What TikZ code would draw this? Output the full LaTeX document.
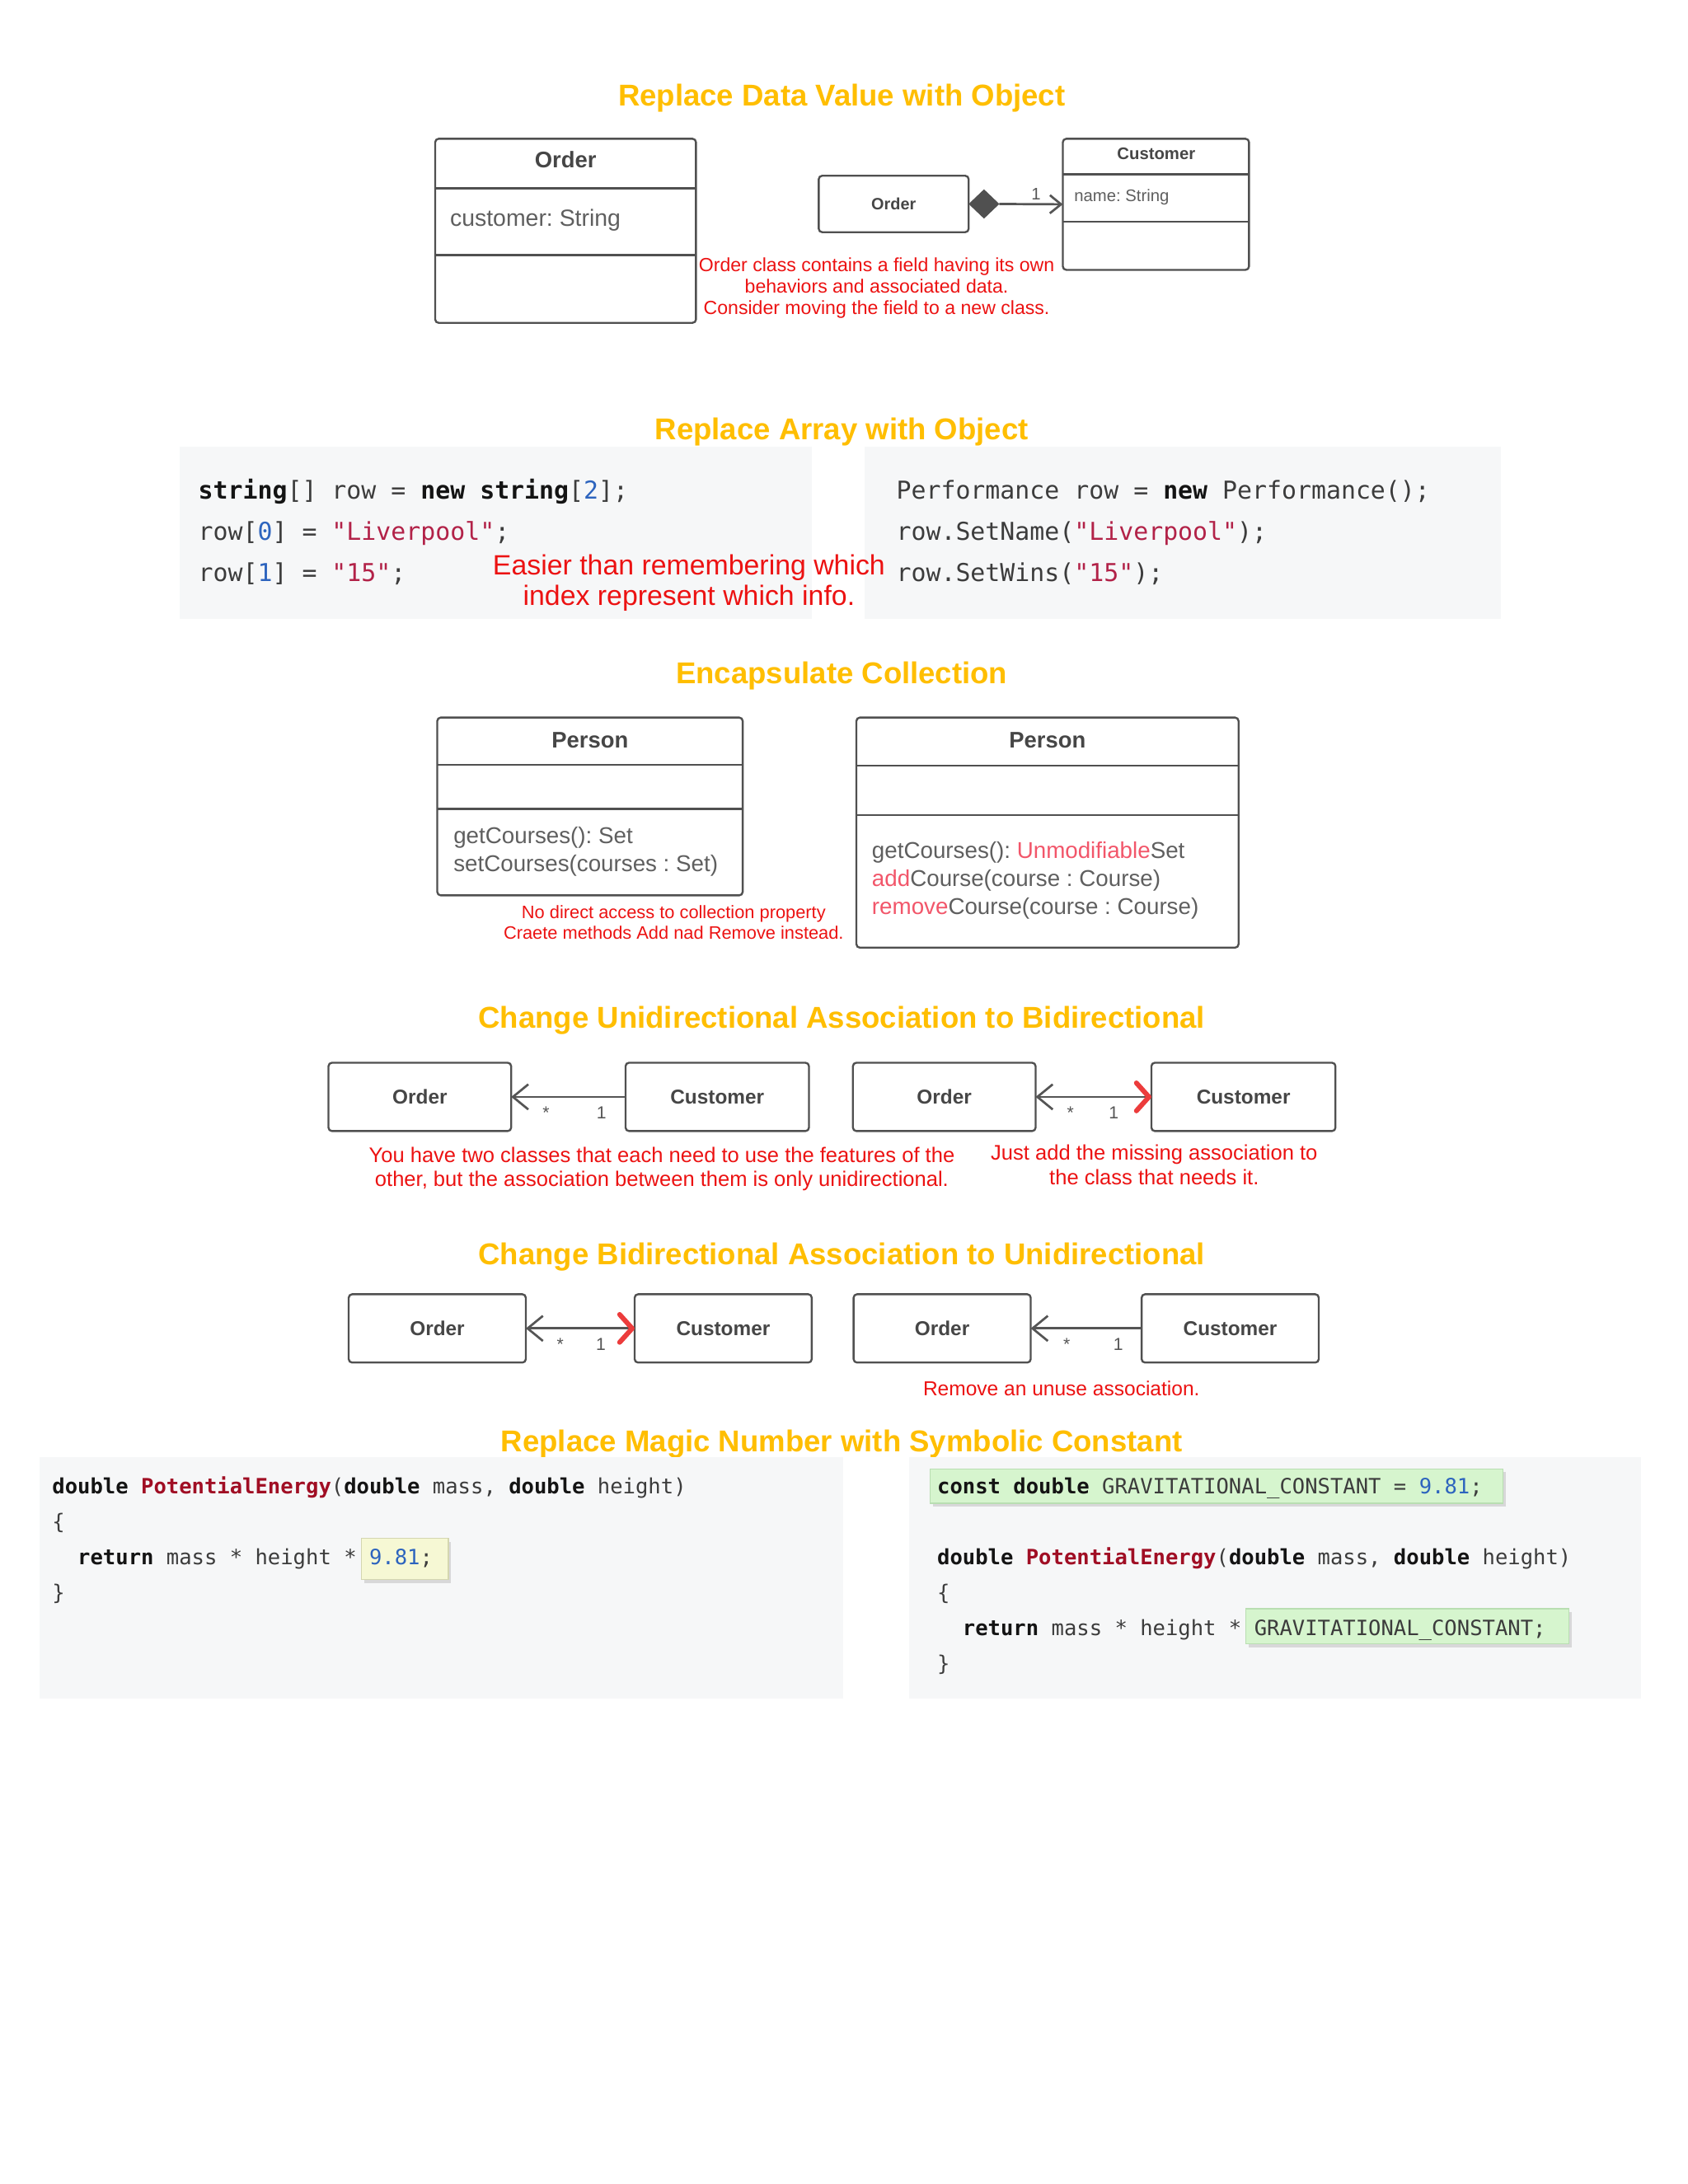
\documentclass[tikz,border=0pt]{standalone}
\usepackage{fontspec}
\setmainfont{Liberation Sans}
\newfontfamily\codefont{DejaVu Sans Mono}
\usetikzlibrary{arrows.meta,shapes.geometric,shadows}
\definecolor{titleC}{RGB}{255,190,0}
\definecolor{boxline}{RGB}{80,80,80}
\definecolor{nameC}{RGB}{70,70,70}
\definecolor{attrC}{RGB}{95,95,95}
\definecolor{noteC}{RGB}{236,18,18}
\definecolor{pinkC}{RGB}{242,86,106}
\definecolor{lineC}{RGB}{85,85,85}
\definecolor{redA}{RGB}{236,60,60}
\definecolor{codebg}{RGB}{246,247,248}
\definecolor{codeC}{RGB}{60,60,60}
\definecolor{kwC}{RGB}{20,20,20}
\definecolor{strC}{RGB}{178,34,72}
\definecolor{fnC}{RGB}{160,14,36}
\definecolor{numC}{RGB}{45,100,190}
\definecolor{greenF}{RGB}{214,245,206}
\definecolor{greenD}{RGB}{185,222,178}
\definecolor{yellowF}{RGB}{246,248,212}
\definecolor{yellowD}{RGB}{212,214,176}
\newcommand{\sz}[1]{\fontsize{#1}{#1}\selectfont}
\newcommand{\ckw}[1]{{\bfseries\color{kwC}#1}}
\newcommand{\cstr}[1]{{\color{strC}#1}}
\newcommand{\cnum}[1]{{\color{numC}#1}}
\newcommand{\cfn}[1]{{\bfseries\color{fnC}#1}}
\newcommand{\cpk}[1]{{\color{pinkC}#1}}
\frenchspacing
\begin{document}
\begin{tikzpicture}[x=1pt,y=-1pt,
  title/.style={font=\bfseries\sz{21.6}, text=titleC, anchor=base, inner sep=0pt},
  classbox/.style={draw=boxline, line width=1.4pt, rounded corners=2.5pt, fill=white, outer sep=0pt, inner sep=0pt, text=nameC},
  divider/.style={draw=boxline, line width=1.4pt},
  cname/.style={text=nameC, inner sep=0pt},
  attr/.style={text=attrC, anchor=base west, inner sep=0pt},
  note/.style={text=noteC, anchor=base, inner sep=0pt},
  assoc/.style={draw=lineC, line width=1.6pt},
  mult/.style={text=lineC, anchor=base, inner sep=0pt, font=\sz{12.5}},
  codepanel/.style={fill=codebg, draw=none, inner sep=0pt, outer sep=0pt, anchor=north west},
  code/.style={font=\codefont\sz{15.1}, text=codeC, anchor=base west, inner sep=0pt},
  bigcode/.style={font=\codefont\sz{17.65}, text=codeC, anchor=base west, inner sep=0pt},
  greenhl/.style={fill=greenF, draw=greenD, line width=0.8pt, inner sep=0pt, outer sep=0pt, anchor=north west,
    drop shadow={shadow xshift=2pt, shadow yshift=-2.5pt, fill=black, opacity=0.12}},
  yellowhl/.style={fill=yellowF, draw=yellowD, line width=0.8pt, inner sep=0pt, outer sep=0pt, anchor=north west,
    drop shadow={shadow xshift=2pt, shadow yshift=-2.5pt, fill=black, opacity=0.12}},
  smallbox/.style={classbox, font=\bfseries\sz{14.4}, minimum height=49pt, anchor=north west},
]
\useasboundingbox (0,0) rectangle (1210,1566);
\fill[white] (0,0) rectangle (1210,1566);

% ===== Section 1: Replace Data Value with Object =====
\node[title] (t1) at (603.5,76) {Replace Data Value with Object};
\node[classbox, minimum width=187pt, minimum height=132pt, anchor=north west] (orderA) at (312,99.5) {};
\draw[divider] ([yshift=-35.5pt]orderA.north west) -- ([yshift=-35.5pt]orderA.north east);
\draw[divider] ([yshift=-83.5pt]orderA.north west) -- ([yshift=-83.5pt]orderA.north east);
\node[cname, font=\bfseries\sz{16.2}] (orderAn) at (405.5,114.5) {Order};
\node[attr, font=\sz{16.8}] (orderAa) at (322.5,162) {customer: String};

\node[classbox, minimum width=107.5pt, minimum height=40.5pt, anchor=north west, font=\bfseries\sz{11.75}] (ordS) at (587,126) {Order};
\node[diamond, fill=boxline, inner sep=0pt, outer sep=0pt, minimum width=22pt, minimum height=21pt, anchor=west] (dia) at (ordS.east) {};
\node[classbox, minimum width=133.5pt, minimum height=94pt, anchor=north west] (custA) at (762,99.5) {};
\draw[divider] ([yshift=-25.5pt]custA.north west) -- ([yshift=-25.5pt]custA.north east);
\draw[divider] ([yshift=-59.5pt]custA.north west) -- ([yshift=-59.5pt]custA.north east);
\node[cname, font=\bfseries\sz{12}] (custAn) at (829,110.5) {Customer};
\node[attr, font=\sz{12}] (custAa) at (770,144.3) {name: String};
\draw[assoc, -{Straight Barb[length=8pt,width=13pt]}] (dia.east) -- (custA.west)
  node[mult, font=\sz{12}, pos=0.58, yshift=2.9pt] (m1) {1};
\node[note, font=\sz{13.65}] (n1a) at (628.5,195) {Order class contains a field having its own};
\node[note, font=\sz{13.65}] (n1b) at (628.5,210.2) {behaviors and associated data.};
\node[note, font=\sz{13.65}] (n1c) at (628.5,225.5) {Consider moving the field to a new class.};

% ===== Section 2: Replace Array with Object =====
\node[title] (t2) at (603.5,315) {Replace Array with Object};
\node[codepanel, minimum width=453pt, minimum height=123.5pt] (p1) at (129,320.5) {};
\node[codepanel, minimum width=456pt, minimum height=123.5pt] (p2) at (620,320.5) {};
\node[bigcode] (c1a) at (142,358) {\ckw{string}[] row = \ckw{new} \ckw{string}[\cnum{2}];};
\node[bigcode] (c1b) at (142,387.5) {row[\cnum{0}] = \cstr{"Liverpool"};};
\node[bigcode] (c1c) at (142,417) {row[\cnum{1}] = \cstr{"15"};};
\node[bigcode] (c2a) at (642.5,358) {Performance row = \ckw{new} Performance();};
\node[bigcode] (c2b) at (642.5,387.5) {row.SetName(\cstr{"Liverpool"});};
\node[bigcode] (c2c) at (642.5,417) {row.SetWins(\cstr{"15"});};
\node[note, font=\sz{20}] (n2a) at (494,412) {Easier than remembering which};
\node[note, font=\sz{20}] (n2b) at (494,434) {index represent which info.};

% ===== Section 3: Encapsulate Collection =====
\node[title] (t3) at (603.5,490) {Encapsulate Collection};
\node[classbox, minimum width=219pt, minimum height=127.5pt, anchor=north west] (persA) at (313.5,514.5) {};
\draw[divider] ([yshift=-34pt]persA.north west) -- ([yshift=-34pt]persA.north east);
\draw[divider] ([yshift=-65.5pt]persA.north west) -- ([yshift=-65.5pt]persA.north east);
\node[cname, font=\bfseries\sz{16.2}] (persAn) at (423,531) {Person};
\node[attr, font=\sz{16.4}] (persAm1) at (325,605) {getCourses(): Set};
\node[attr, font=\sz{16.4}] (persAm2) at (325,625) {setCourses(courses : Set)};

\node[classbox, minimum width=274pt, minimum height=165pt, anchor=north west] (persB) at (614,514.5) {};
\draw[divider] ([yshift=-34.5pt]persB.north west) -- ([yshift=-34.5pt]persB.north east);
\draw[divider] ([yshift=-70pt]persB.north west) -- ([yshift=-70pt]persB.north east);
\node[cname, font=\bfseries\sz{16.2}] (persBn) at (751,531) {Person};
\node[attr, font=\sz{16.4}] (persBm1) at (625,615.5) {getCourses(): \cpk{Unmodifiable}Set};
\node[attr, font=\sz{16.4}] (persBm2) at (625,635.5) {\cpk{add}Course(course : Course)};
\node[attr, font=\sz{16.4}] (persBm3) at (625,655.5) {\cpk{remove}Course(course : Course)};
\node[note, font=\sz{12.9}] (n3a) at (483,658.6) {No direct access to collection property};
\node[note, font=\sz{12.9}] (n3b) at (483,673.4) {Craete methods Add nad Remove instead.};

% ===== Section 4: Change Unidirectional Association to Bidirectional =====
\node[title] (t4) at (603.5,737) {Change Unidirectional Association to Bidirectional};
\node[smallbox, minimum width=131pt] (o4a) at (235.5,762) {Order};
\node[smallbox, minimum width=131.5pt] (c4a) at (448.5,762) {Customer};
\node[smallbox, minimum width=131pt] (o4b) at (611.5,762) {Order};
\node[smallbox, minimum width=132pt] (c4b) at (825.5,762) {Customer};
\draw[assoc, {Straight Barb[length=11pt,width=18pt]}-] (o4a.east) -- (c4a.west)
  node[mult, pos=0.305, yshift=-15.5pt] (m4a) {*}
  node[mult, pos=0.79, yshift=-15.5pt] (m4b) {1};
\draw[assoc, {Straight Barb[length=11pt,width=18pt]}-{Straight Barb[length=9pt,width=20pt,line width=3.5pt,color=redA,round]}] (o4b.east) -- (c4b.west)
  node[mult, pos=0.30, yshift=-15.5pt] (m4c) {*}
  node[mult, pos=0.675, yshift=-15.5pt] (m4d) {1};
\node[note, font=\sz{15.1}] (n4a) at (474.5,833.4) {You have two classes that each need to use the features of the};
\node[note, font=\sz{15.1}] (n4b) at (474.5,850.4) {other, but the association between them is only unidirectional.};
\node[note, font=\sz{15.1}] (n4c) at (827.5,832) {Just add the missing association to};
\node[note, font=\sz{15.1}] (n4d) at (827.5,849.4) {the class that needs it.};

% ===== Section 5: Change Bidirectional Association to Unidirectional =====
\node[title] (t5) at (603.5,907) {Change Bidirectional Association to Unidirectional};
\node[smallbox, minimum width=127pt] (o5a) at (250,928) {Order};
\node[smallbox, minimum width=127pt] (c5a) at (455,928) {Customer};
\node[smallbox, minimum width=127pt] (o5b) at (612,928) {Order};
\node[smallbox, minimum width=127pt] (c5b) at (818.5,928) {Customer};
\draw[assoc, {Straight Barb[length=11pt,width=18pt]}-{Straight Barb[length=9pt,width=20pt,line width=3.5pt,color=redA,round]}] (o5a.east) -- (c5a.west)
  node[mult, pos=0.316, yshift=-15.5pt] (m5a) {*}
  node[mult, pos=0.69, yshift=-15.5pt] (m5b) {1};
\draw[assoc, {Straight Barb[length=11pt,width=18pt]}-] (o5b.east) -- (c5b.west)
  node[mult, pos=0.325, yshift=-15.5pt] (m5c) {*}
  node[mult, pos=0.79, yshift=-15.5pt] (m5d) {1};
\node[note, font=\sz{14.5}] (n5) at (761,1000.9) {Remove an unuse association.};

% ===== Section 6: Replace Magic Number with Symbolic Constant =====
\node[title] (t6) at (603.5,1041) {Replace Magic Number with Symbolic Constant};
\node[codepanel, minimum width=576pt, minimum height=173.5pt] (p3) at (28.5,1044.5) {};
\node[codepanel, minimum width=524.5pt, minimum height=173.5pt] (p4) at (652,1044.5) {};
\node[yellowhl, minimum width=62.5pt, minimum height=29.6pt] (hy) at (259,1103) {};
\node[greenhl, minimum width=410.7pt, minimum height=24.6pt] (hg1) at (666.7,1053.2) {};
\node[greenhl, minimum width=231.7pt, minimum height=25.1pt] (hg2) at (893.3,1153.6) {};

\node[code] (d1) at (37.3,1071) {\ckw{double} \cfn{PotentialEnergy}(\ckw{double} mass, \ckw{double} height)};
\node[code] (d2) at (37.3,1096.4) {\{};
\node[code] (d3) at (37.3,1121.8) {\ \ \ckw{return} mass * height * \cnum{9.81};};
\node[code] (d4) at (37.3,1147.2) {\}};

\node[code] (e1) at (671.8,1071) {\ckw{const} \ckw{double} GRAVITATIONAL\_CONSTANT = \cnum{9.81};};
\node[code] (e2) at (671.8,1121.8) {\ckw{double} \cfn{PotentialEnergy}(\ckw{double} mass, \ckw{double} height)};
\node[code] (e3) at (671.8,1147.2) {\{};
\node[code] (e4) at (671.8,1172.6) {\ \ \ckw{return} mass * height * GRAVITATIONAL\_CONSTANT;};
\node[code] (e5) at (671.8,1198) {\}};
\end{tikzpicture}
\end{document}
